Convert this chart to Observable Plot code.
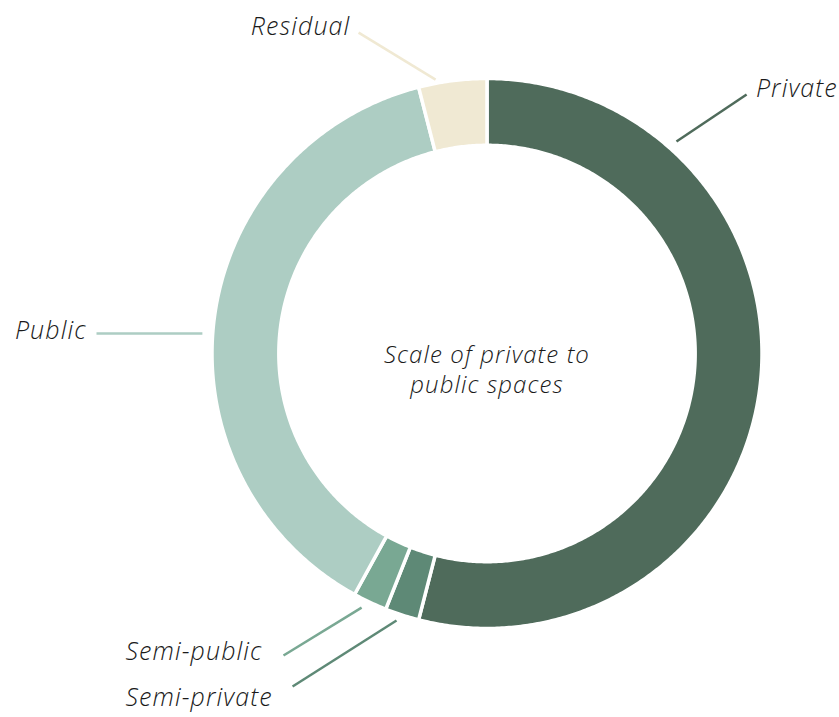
<!DOCTYPE html>
<html>
<head>
<meta charset="utf-8">
<script src="https://cdn.jsdelivr.net/npm/d3@7"></script>
<script src="https://cdn.jsdelivr.net/npm/@observablehq/plot@0.6"></script>
<style>
  html, body { margin: 0; padding: 0; background: #fff; }
  #chart svg { display: block; }
  #chart svg text { letter-spacing: 1.1px; }
</style>
</head>
<body>
<div id="chart"></div>
<script>
// ---- Data ----
const categories = ["Private", "Semi-private", "Semi-public", "Public", "Residual"];
const shares = [54, 2, 2, 38, 4];
const colors = ["#4f6b5b", "#5e8976", "#79a893", "#adcdc3", "#f0e9d3"];
const centerTitle = "Scale of private to\npublic spaces";

// ---- Annotation layout (unit coords: ring outer radius = 1) ----
const leaderFrom = [[0.689, 0.771], [-0.329, -0.971], [-0.456, -0.924], [-1.035, 0.073], [-0.187, 0.996]];
const leaderTo   = [[0.944, 0.942], [-0.707, -1.211], [-0.740, -1.098], [-1.420, 0.073], [-0.467, 1.167]];
const labelAt    = [[0.978, 0.962], [-1.315, -1.253], [-1.315, -1.087], [-1.456, 0.082], [-0.497, 1.186]];
const labelAnchor = ["start", "start", "start", "end", "end"];

const outerR = 1, innerR = 0.757;

// Build ring polygons from pie angles
const pie = d3.pie().sort(null).value(d => d.value).startAngle(0).endAngle(2 * Math.PI);
const slices = pie(categories.map((c, i) => ({ name: c, value: shares[i] })));
const pts = [];
for (const s of slices) {
  const n = Math.max(4, Math.ceil((s.endAngle - s.startAngle) / (Math.PI / 360)));
  for (let k = 0; k <= n; k++) {
    const a = s.startAngle + (s.endAngle - s.startAngle) * k / n;
    pts.push({ name: s.data.name, x: outerR * Math.sin(a), y: outerR * Math.cos(a) });
  }
  for (let k = n; k >= 0; k--) {
    const a = s.startAngle + (s.endAngle - s.startAngle) * k / n;
    pts.push({ name: s.data.name, x: innerR * Math.sin(a), y: innerR * Math.cos(a) });
  }
}

const leaders = categories.map((c, i) => ({
  name: c, x1: leaderFrom[i][0], y1: leaderFrom[i][1], x2: leaderTo[i][0], y2: leaderTo[i][1]
}));
const labels = categories.map((c, i) => ({ name: c, x: labelAt[i][0], y: labelAt[i][1], anchor: labelAnchor[i] }));

const W = 839, H = 717, R = 275, cx = 486.5, cy = 353;
const font = "'Open Sans', Lato, sans-serif";

const chart = Plot.plot({
  width: W,
  height: H,
  margin: 0,
  x: { domain: [-cx / R, (W - cx) / R], axis: null },
  y: { domain: [-(H - cy) / R, cy / R], axis: null },
  color: { type: "ordinal", domain: categories, range: colors },
  style: { background: "#fff", fontFamily: font },
  marks: [
    Plot.line(pts, { x: "x", y: "y", z: "name", fill: "name", stroke: "#fff", strokeWidth: 3.5, curve: "linear-closed" }),
    Plot.link(leaders, { x1: "x1", y1: "y1", x2: "x2", y2: "y2", stroke: "name", strokeWidth: 2.5 }),
    Plot.text(labels.filter(d => d.anchor === "start"), { x: "x", y: "y", text: "name", textAnchor: "start", fontSize: 25, fontStyle: "italic", fontWeight: 300, fill: "#1a1a1a", fontFamily: font }),
    Plot.text(labels.filter(d => d.anchor === "end"), { x: "x", y: "y", text: "name", textAnchor: "end", fontSize: 25, fontStyle: "italic", fontWeight: 300, fill: "#1a1a1a", fontFamily: font }),
    Plot.text([centerTitle], { x: () => 0, y: () => -0.055, text: d => d, fontSize: 24, fontStyle: "italic", fontWeight: 300, lineHeight: 1.25, fill: "#1a1a1a", fontFamily: font })
  ]
});
document.getElementById("chart").appendChild(chart);
</script>
</body>
</html>
